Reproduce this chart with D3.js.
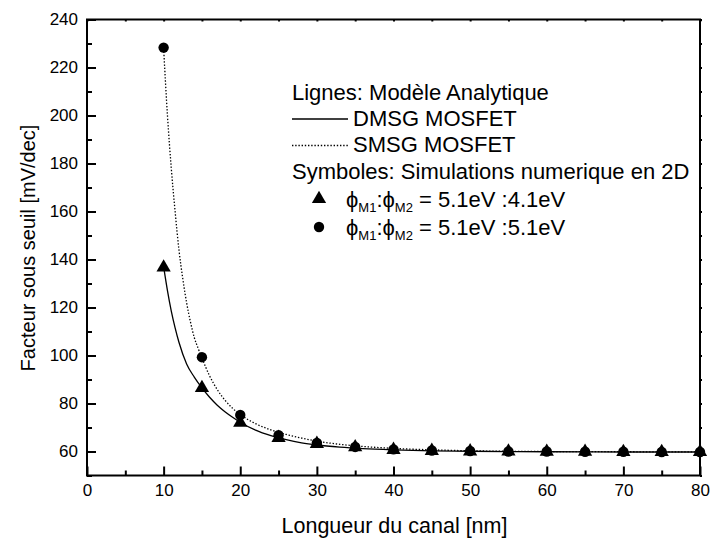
<!DOCTYPE html>
<html>
<head>
<meta charset="utf-8">
<script src="https://cdn.jsdelivr.net/npm/d3@7"></script>
<style>
  html, body { margin: 0; padding: 0; background: #fff; }
  svg { display: block; font-family: "Liberation Sans", Arial, sans-serif; }
</style>
</head>
<body>
<svg id="chart" width="713" height="545"></svg>
<script>
// Channel length (nm) where the 2D simulations were run
const simLength = [10, 15, 20, 25, 30, 35, 40, 45, 50, 55, 60, 65, 70, 75, 80];
// 2D simulation, phiM1:phiM2 = 5.1eV:4.1eV (triangles)
const simDMSG = [136.7, 86.5, 72.0, 65.7, 63.2, 61.8, 60.7, 60.3, 60.1, 60.0, 59.9, 59.9, 59.8, 59.8, 59.8];
// 2D simulation, phiM1:phiM2 = 5.1eV:5.1eV (circles)
const simSMSG = [228.3, 99.3, 75.2, 66.8, 63.6, 61.9, 60.9, 60.4, 60.2, 60.0, 60.0, 59.9, 59.9, 59.8, 59.8];

// Analytical model, DMSG MOSFET (solid line)
const modelDMSGLength = [10, 10.5, 11, 11.5, 12, 13, 14, 15, 16, 17, 18, 19, 20, 22, 24, 26, 28, 30, 33, 36, 40, 45, 50, 60, 70, 80];
const modelDMSG = [137, 127, 118.5, 111.5, 105.5, 96.5, 91, 86.5, 82.6, 79.3, 76.6, 74.3, 72.2, 68.9, 66.6, 64.9, 63.6, 62.7, 61.8, 61.2, 60.7, 60.3, 60.1, 59.9, 59.8, 59.8];
// Analytical model, SMSG MOSFET (dotted line)
const modelSMSGLength = [10, 10.5, 11, 11.5, 12, 12.5, 13, 13.5, 14, 14.5, 15, 16, 17, 18, 19, 20, 22, 24, 26, 28, 30, 33, 36, 40, 45, 50, 60, 70, 80];
const modelSMSG = [228, 200, 178, 160, 144, 132, 122, 114, 107.5, 103, 99, 91.5, 85.8, 81.4, 78, 75.4, 71.6, 69.0, 67.1, 65.6, 64.3, 63.0, 62.1, 61.3, 60.7, 60.3, 60.0, 59.9, 59.8];

// Axis ticks
const xMajorTicks = [0, 10, 20, 30, 40, 50, 60, 70, 80];
const xMinorTicks = [5, 15, 25, 35, 45, 55, 65, 75];
const yMajorTicks = [60, 80, 100, 120, 140, 160, 180, 200, 220, 240];
const yMinorTicks = [50, 70, 90, 110, 130, 150, 170, 190, 210, 230];

const svg = d3.select("#chart");
const plotLeft = 87, plotRight = 700, plotTop = 19.5, plotBottom = 475.5;

const x = d3.scaleLinear().domain([0, 80]).range([plotLeft, plotRight]);
const y = d3.scaleLinear().domain([50, 240]).range([plotBottom, plotTop]);

// Frame
svg.append("rect")
  .attr("x", plotLeft).attr("y", plotTop)
  .attr("width", plotRight - plotLeft).attr("height", plotBottom - plotTop)
  .attr("fill", "none").attr("stroke", "#000").attr("stroke-width", 2);

function styleAxis(g) {
  g.select(".domain").remove();
  g.selectAll(".tick line").attr("stroke", "#000").attr("stroke-width", 2);
  g.selectAll(".tick text").attr("fill", "#000")
    .style("font-family", "'Liberation Sans', Arial, sans-serif").style("font-size", "17px");
}

// Bottom axis (ticks point inward)
svg.append("g").attr("transform", `translate(0,${plotBottom})`)
  .call(d3.axisBottom(x).tickValues(xMajorTicks).tickSize(-9).tickPadding(8).tickFormat(d3.format("d")))
  .call(styleAxis);
svg.append("g").attr("transform", `translate(0,${plotBottom})`)
  .call(d3.axisBottom(x).tickValues(xMinorTicks).tickSize(-5).tickFormat(""))
  .call(styleAxis);

// Left axis (ticks point inward)
svg.append("g").attr("transform", `translate(${plotLeft},0)`)
  .call(d3.axisLeft(y).tickValues(yMajorTicks).tickSize(-9).tickPadding(9).tickFormat(d3.format("d")))
  .call(styleAxis);
svg.append("g").attr("transform", `translate(${plotLeft},0)`)
  .call(d3.axisLeft(y).tickValues(yMinorTicks).tickSize(-5).tickFormat(""))
  .call(styleAxis);

// Small marks on the opposite edges of the frame
svg.append("g").attr("transform", `translate(${plotRight},0)`)
  .call(d3.axisRight(y).tickValues(yMajorTicks.concat(yMinorTicks)).tickSize(2).tickFormat(""))
  .call(styleAxis);
svg.append("g").attr("transform", `translate(0,${plotTop})`)
  .call(d3.axisTop(x).tickValues(xMajorTicks.concat(xMinorTicks)).tickSize(-2).tickFormat(""))
  .call(styleAxis);

// Axis titles
svg.append("text")
  .attr("x", (plotLeft + plotRight) / 2 + 1).attr("y", 533)
  .attr("text-anchor", "middle").style("font-size", "21.5px")
  .text("Longueur du canal [nm]");
svg.append("text")
  .attr("transform", `translate(35,248) rotate(-90)`)
  .attr("text-anchor", "middle").style("font-size", "20px")
  .text("Facteur sous seuil [mV/dec]");

// Model curves
const line = d3.line().x(d => x(d[0])).y(d => y(d[1])).curve(d3.curveMonotoneX);
const plot = svg.append("g");
plot.append("path")
  .datum(d3.zip(modelDMSGLength, modelDMSG))
  .attr("d", line).attr("fill", "none").attr("stroke", "#000").attr("stroke-width", 1.3);
plot.append("path")
  .datum(d3.zip(modelSMSGLength, modelSMSG))
  .attr("d", line).attr("fill", "none").attr("stroke", "#000").attr("stroke-width", 1.3)
  .attr("stroke-dasharray", "1.4,1.8");

// Simulation symbols
const triangle = d3.symbol().type(d3.symbolTriangle).size(88);
plot.selectAll("circle.sim")
  .data(d3.zip(simLength, simSMSG))
  .join("circle").attr("class", "sim")
  .attr("cx", d => x(d[0])).attr("cy", d => y(d[1])).attr("r", 5.2).attr("fill", "#000");
plot.selectAll("path.tri")
  .data(d3.zip(simLength, simDMSG))
  .join("path").attr("class", "tri")
  .attr("transform", d => `translate(${x(d[0])},${y(d[1])})`)
  .attr("d", triangle).attr("fill", "#000");

// Legend
const lg = svg.append("g").style("font-size", "22px");
lg.append("text").attr("x", 292).attr("y", 100).text("Lignes: Modèle Analytique");
lg.append("line").attr("x1", 292).attr("x2", 348).attr("y1", 119).attr("y2", 119)
  .attr("stroke", "#000").attr("stroke-width", 1.3);
lg.append("text").attr("x", 353).attr("y", 126).text("DMSG MOSFET");
lg.append("line").attr("x1", 292).attr("x2", 348).attr("y1", 145.5).attr("y2", 145.5)
  .attr("stroke", "#000").attr("stroke-width", 1.3).attr("stroke-dasharray", "1.4,1.8");
lg.append("text").attr("x", 353).attr("y", 152).text("SMSG MOSFET");
lg.append("text").attr("x", 292).attr("y", 179).text("Symboles: Simulations numerique en 2D");

lg.append("path").attr("transform", "translate(319,199)").attr("d", triangle).attr("fill", "#000");
lg.append("circle").attr("cx", 319).attr("cy", 227).attr("r", 5.2).attr("fill", "#000");

function phiRow(yb, text) {
  const t = lg.append("text").attr("x", 346).attr("y", yb);
  t.append("tspan").text("ϕ");
  t.append("tspan").attr("dy", 5).style("font-size", "13px").text("M1");
  t.append("tspan").attr("dy", -5).text(":ϕ");
  t.append("tspan").attr("dy", 5).style("font-size", "13px").text("M2");
  t.append("tspan").attr("dy", -5).text(" = " + text);
}
phiRow(207, "5.1eV :4.1eV");
phiRow(235, "5.1eV :5.1eV");
</script>
</body>
</html>
